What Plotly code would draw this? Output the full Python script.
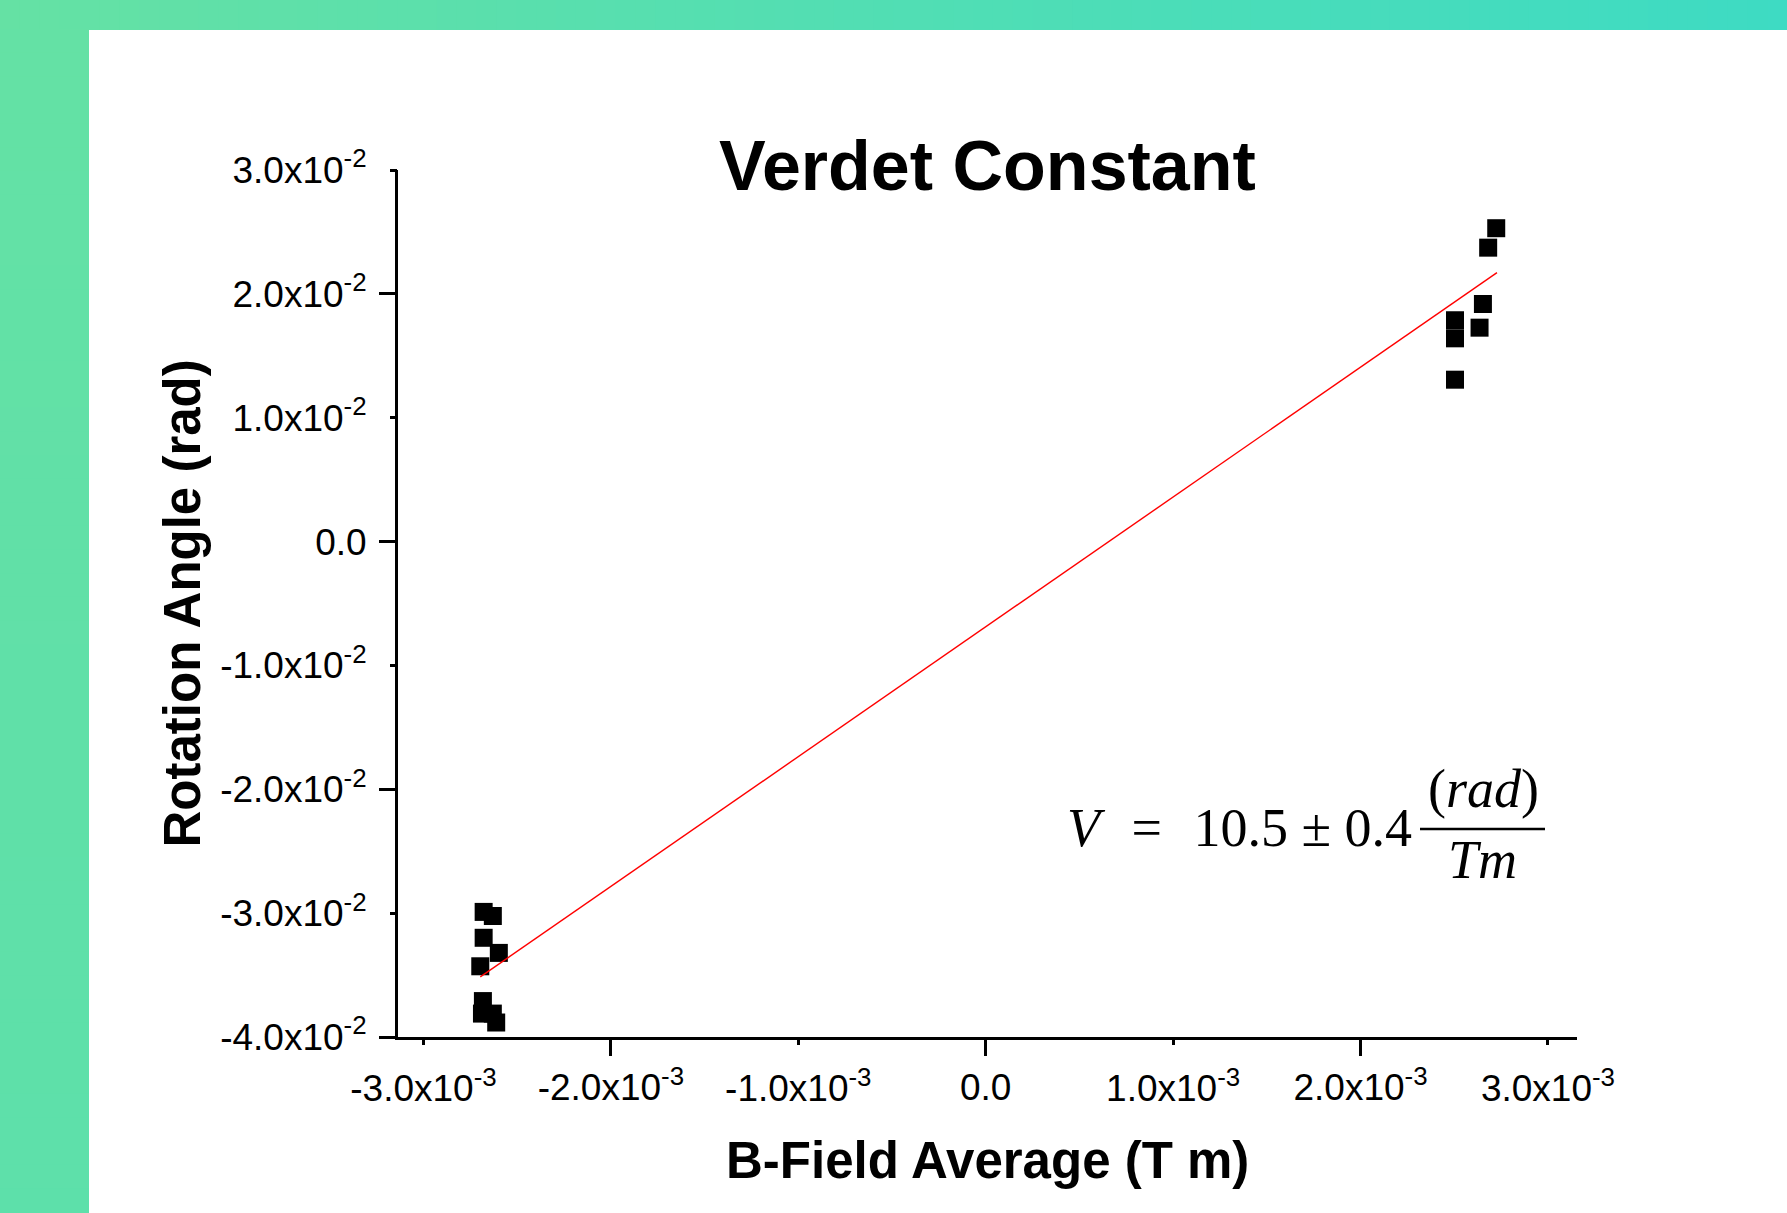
import plotly.graph_objects as go

# ---------------- data ----------------
b_field = [-2.679e-3, -2.630e-3, -2.679e-3, -2.598e-3, -2.697e-3, -2.683e-3, -2.688e-3, -2.630e-3, -2.612e-3,
           2.724e-3, 2.681e-3, 2.653e-3, 2.504e-3, 2.504e-3, 2.635e-3, 2.504e-3]
rotation = [-2.990e-2, -3.023e-2, -3.199e-2, -3.321e-2, -3.429e-2, -3.710e-2, -3.811e-2, -3.811e-2, -3.883e-2,
            2.530e-2, 2.373e-2, 1.918e-2, 1.787e-2, 1.641e-2, 1.727e-2, 1.307e-2]
fit_x = [-2.697e-3, 2.728e-3]
fit_y = [-3.515e-2, 2.171e-2]

x_major_vals = [-2e-3, 0.0, 2e-3]
x_major_text = ["-2.0x10<sup>-3</sup>", "0.0", "2.0x10<sup>-3</sup>"]
x_minor_vals = [-3e-3, -1e-3, 1e-3, 3e-3]
x_minor_text = ["-3.0x10<sup>-3</sup>", "-1.0x10<sup>-3</sup>", "1.0x10<sup>-3</sup>", "3.0x10<sup>-3</sup>"]
y_major_vals = [-4e-2, -2e-2, 0.0, 2e-2]
y_major_text = ["-4.0x10<sup>-2</sup>", "-2.0x10<sup>-2</sup>", "0.0", "2.0x10<sup>-2</sup>"]
y_minor_vals = [-3e-2, -1e-2, 1e-2, 3e-2]
y_minor_text = ["-3.0x10<sup>-2</sup>", "-1.0x10<sup>-2</sup>", "1.0x10<sup>-2</sup>", "3.0x10<sup>-2</sup>"]

x_range = [-3.136e-3, 3.155e-3]
y_range = [-4e-2, 3e-2]

# ---------------- geometry ----------------
W, H = 1787, 1213
L, R, T, B = 398, 210, 170, 176
PW, PH = W - L - R, H - T - B


def px_x(px):
    return (px - L) / PW


def px_y(py):
    return (H - B - py) / PH


SANS = "Liberation Sans, Arial, sans-serif"
SERIF = "Liberation Serif, Times New Roman, serif"
TICKFONT = dict(family=SANS, size=37, color="black")

fig = go.Figure()
fig.add_trace(go.Scatter(x=fit_x, y=fit_y, mode="lines", xaxis="x2", yaxis="y2",
                         line=dict(color="#FF0000", width=1.4), showlegend=False, hoverinfo="skip"))
fig.add_trace(go.Scatter(x=b_field, y=rotation, mode="markers",
                         marker=dict(symbol="square", size=18, color="black", line=dict(width=0)),
                         showlegend=False))

common = dict(showgrid=False, zeroline=False, ticks="outside", tickwidth=3, tickcolor="black",
              tickfont=TICKFONT, tickmode="array")

fig.update_layout(
    width=W, height=H,
    margin=dict(l=L, r=R, t=T, b=B, autoexpand=False),
    paper_bgcolor="white", plot_bgcolor="white",
    xaxis=dict(range=x_range, showline=True, linewidth=3, linecolor="black",
               tickvals=x_major_vals, ticktext=x_major_text, ticklen=16, **common),
    xaxis2=dict(range=x_range, overlaying="x", side="bottom", anchor="y", showline=False,
                tickvals=x_minor_vals, ticktext=x_minor_text, ticklen=7, ticklabelstandoff=12, **common),
    yaxis=dict(range=y_range, showline=True, linewidth=3, linecolor="black",
               tickvals=y_major_vals, ticktext=y_major_text, ticklen=16, ticklabelstandoff=5, **common),
    yaxis2=dict(range=y_range, overlaying="y", side="left", anchor="x", showline=False,
                tickvals=y_minor_vals, ticktext=y_minor_text, ticklen=7, ticklabelstandoff=16, **common),
    title=dict(text="<b>Verdet Constant</b>", x=px_x(987.5), xref="paper", xanchor="center",
               y=1 - 165 / H, yref="container", yanchor="middle",
               font=dict(family=SANS, size=70, color="black")),
)

annotations = [
    dict(text="<b>B-Field Average (T m)</b>", x=0.5, y=px_y(1160), xref="paper", yref="paper",
         xanchor="center", yanchor="middle", showarrow=False, font=dict(family=SANS, size=51, color="black")),
    dict(text="<b>Rotation Angle (rad)</b>", x=px_x(182), y=0.5, xref="paper", yref="paper",
         xanchor="center", yanchor="middle", textangle=-90, showarrow=False,
         font=dict(family=SANS, size=51, color="black")),
    dict(text="<i>V</i>\u2002\u200a=\u2002\u200a10.5\u2005±\u20050.4", x=px_x(1414), y=px_y(828),
         xref="paper", yref="paper", xanchor="right", yanchor="middle", showarrow=False,
         font=dict(family=SERIF, size=54, color="black")),
    dict(text="(<i>rad</i>)", x=px_x(1483), y=px_y(789), xref="paper", yref="paper",
         xanchor="center", yanchor="middle", showarrow=False, font=dict(family=SERIF, size=54, color="black")),
    dict(text="<i>Tm</i>", x=px_x(1482), y=px_y(860), xref="paper", yref="paper",
         xanchor="center", yanchor="middle", showarrow=False, font=dict(family=SERIF, size=54, color="black")),
]
fig.update_layout(annotations=annotations)

# ---------------- decorative gradient frame + fraction bar ----------------
C0 = (101, 225, 164)
C1 = (55, 218, 200)


def grad(px, py):
    t = (px + 0.25 * py) / (W + 0.25 * H)
    t = max(0.0, min(1.0, t))
    return "rgb(%d,%d,%d)" % tuple(round(a + (b - a) * t) for a, b in zip(C0, C1))


shapes = []
N = 90
for i in range(N):
    x0 = i * W / N
    x1 = (i + 1) * W / N + 1
    shapes.append(dict(type="rect", xref="paper", yref="paper", layer="below",
                       x0=px_x(x0), x1=px_x(x1), y0=px_y(0), y1=px_y(30),
                       fillcolor=grad((x0 + x1) / 2, 15), line=dict(width=0)))
M = 50
for j in range(M):
    y0 = 30 + j * (H - 30) / M
    y1 = 30 + (j + 1) * (H - 30) / M + 1
    shapes.append(dict(type="rect", xref="paper", yref="paper", layer="below",
                       x0=px_x(0), x1=px_x(89), y0=px_y(y0 - 1), y1=px_y(y1),
                       fillcolor=grad(45, (y0 + y1) / 2), line=dict(width=0)))
shapes.append(dict(type="line", xref="paper", yref="paper", x0=px_x(1420), x1=px_x(1545),
                   y0=px_y(829), y1=px_y(829), line=dict(color="black", width=2.5)))
fig.update_layout(shapes=shapes)

fig.write_html("out.html", config={"displayModeBar": False},
               post_script="document.body.style.margin='0';document.body.style.overflow='hidden';")
